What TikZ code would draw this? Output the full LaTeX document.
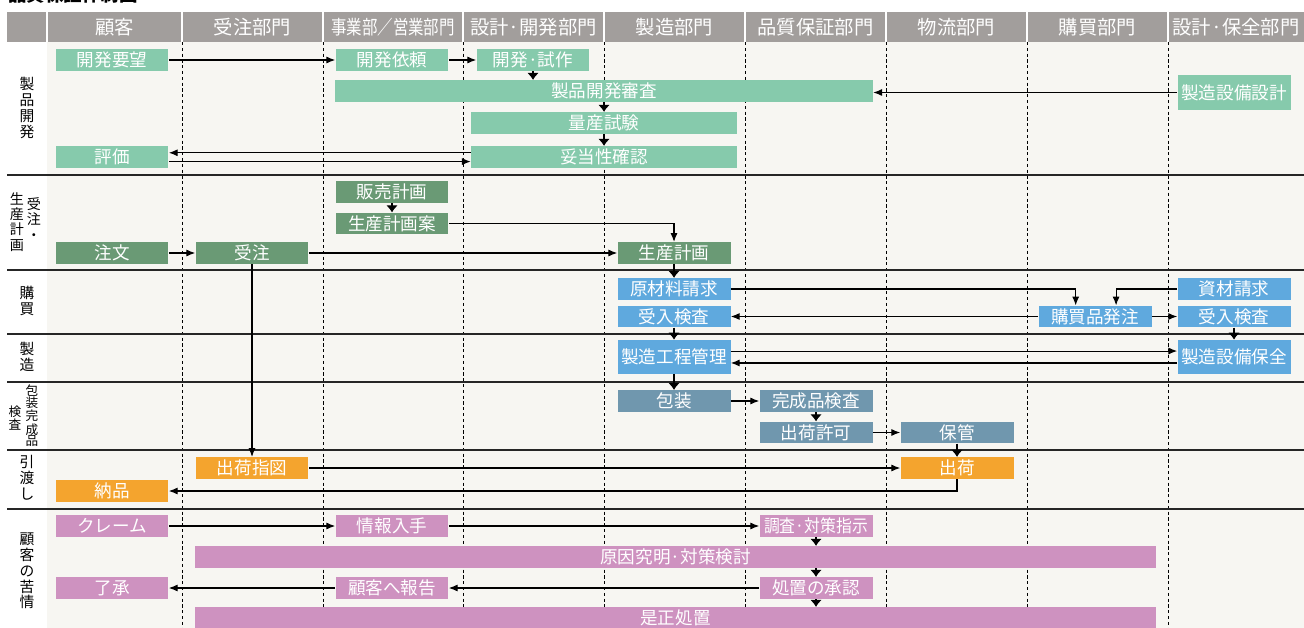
\documentclass[tikz,border=0pt]{standalone}
\usepackage{fontspec}
\usepackage{graphicx}
\setmainfont{Noto Sans CJK JP}
\usetikzlibrary{arrows.meta}

\definecolor{headgray}{HTML}{A29E9C}
\definecolor{paper}{HTML}{F7F6F2}
\definecolor{devgreen}{HTML}{86CAAC}
\definecolor{ordgreen}{HTML}{6A9A75}
\definecolor{mfgblue}{HTML}{5FA9DE}
\definecolor{packblue}{HTML}{7097AE}
\definecolor{shiporange}{HTML}{F4A42E}
\definecolor{claimpink}{HTML}{CE92C0}

\begin{document}
\begin{tikzpicture}[
    x=0.02cm, y=-0.02cm,
    task/.style={minimum width=2.26cm, minimum height=0.43cm, inner sep=0pt,
        text=white, font=\fontsize{10}{11}\selectfont},
    devbox/.style={task, fill=devgreen},
    ordbox/.style={task, fill=ordgreen},
    mfgbox/.style={task, fill=mfgblue},
    packbox/.style={task, fill=packblue},
    shipbox/.style={task, fill=shiporange},
    claimbox/.style={task, fill=claimpink},
    headcell/.style={text=white, inner sep=0pt, font=\fontsize{11}{12}\selectfont},
    rowlabel/.style={align=center, inner sep=0pt, font=\fontsize{8.4}{9}\selectfont},
    flow/.style={-{Latex[length=5pt,width=4pt]}, line width=0.6pt},
    drop/.style={-{Latex[length=4pt,width=6.5pt]}, line width=0.6pt},
    lane/.style={dash pattern=on 1.8pt off 1.5pt, line width=0.5pt},
    rowrule/.style={line width=0.7pt, black!85}
]
    \useasboundingbox (0,0) rectangle (1304,628);
    \fill[white] (0,0) rectangle (1304,628);
    \fill[paper] (47,42) rectangle (1304,628);
    \node[anchor=base west, inner sep=0pt, font=\bfseries\fontsize{10.5}{12}\selectfont] (title) at (8,2) {品質保証体制図};

    % header
    \fill[headgray] (7,12) rectangle (1304,42);
    \foreach \x in {47,182,323,463,604,745,886,1027,1168} {
        \draw[white, line width=0.8pt] (\x,12) -- (\x,42);
    }
    \foreach \name/\cx [count=\i] in {顧客/114.5, 受注部門/252.5,
        \scalebox{0.8}[1]{事業部／営業部門}/393, 設計·開発部門/533.5, 製造部門/674.5,
        品質保証部門/815.5, 物流部門/956.5, 購買部門/1097.5, 設計·保全部門/1236} {
        \node[headcell] (head\i) at (\cx,27) {\name};
    }

    % lanes and rows
    \foreach \x in {182,323,463,604,745,886,1027,1168} {
        \draw[lane] (\x,42) -- (\x,628);
    }
    \foreach \y in {175,270,334,382,450,509} {
        \draw[rowrule] (7,\y) -- (1304,\y);
    }

    \node[rowlabel] (lbdev) at (27,108) {製\\品\\開\\発};
    \node[rowlabel, font=\fontsize{8}{8.6}\selectfont] (lbplan) at (17,222) {生\\産\\計\\画};
    \node[rowlabel, font=\fontsize{8}{8.6}\selectfont] (lbaccept) at (34,219) {受\\注\\・};
    \node[rowlabel] (lbbuy) at (27,301) {購\\買};
    \node[rowlabel] (lbmake) at (27,357) {製\\造};
    \node[rowlabel, font=\fontsize{7.2}{6.6}\selectfont] (lbpack) at (32,416) {包\\装\\完\\成\\品};
    \node[rowlabel, font=\fontsize{7.2}{6.6}\selectfont] (lbcheck) at (15,418) {検\\査};
    \node[rowlabel] (lbhand) at (27,478) {引\\渡\\し};
    \node[rowlabel] (lbclaim) at (27,571) {顧\\客\\の\\苦\\情};

    % product development
    \node[devbox] (wish) at (112,60) {開発要望};
    \node[devbox] (request) at (392,60) {開発依頼};
    \node[devbox] (proto) at (533,60) {開発·試作};
    \node[devbox, minimum width=10.76cm] (review) at (604,91) {製品開発審査};
    \node[devbox, minimum height=0.7cm] (eqdesign) at (1234,92.5) {製造設備設計};
    \node[devbox, minimum width=5.32cm] (masstest) at (604,123) {量産試験};
    \node[devbox, minimum width=5.32cm] (validate) at (604,157) {妥当性確認};
    \node[devbox] (evaluate) at (112,157) {評価};

    % orders and planning
    \node[ordbox] (salesplan) at (392,192) {販売計画};
    \node[ordbox] (plandraft) at (392,223.5) {生産計画案};
    \node[ordbox] (order) at (112,253) {注文};
    \node[ordbox] (accept) at (252,253) {受注};
    \node[ordbox] (prodplan) at (674,253) {生産計画};

    % purchasing
    \node[mfgbox] (rawreq) at (674,289) {原材料請求};
    \node[mfgbox] (inspect) at (674,316.5) {受入検査};
    \node[mfgbox] (purchase) at (1095,316.5) {購買品発注};
    \node[mfgbox] (matreq) at (1234,289) {資材請求};
    \node[mfgbox] (inspectb) at (1234,316.5) {受入検査};

    % manufacturing
    \node[mfgbox, minimum height=0.68cm] (process) at (674,357) {製造工程管理};
    \node[mfgbox, minimum height=0.68cm] (upkeep) at (1234,357) {製造設備保全};

    % packing and final inspection
    \node[packbox] (pack) at (674,401) {包装};
    \node[packbox] (final) at (816,401) {完成品検査};
    \node[packbox] (release) at (816,432.5) {出荷許可};
    \node[packbox] (store) at (957,432.5) {保管};

    % delivery
    \node[shipbox] (shipinst) at (252,468) {出荷指図};
    \node[shipbox] (ship) at (957,468) {出荷};
    \node[shipbox] (deliver) at (112,491) {納品};

    % claims
    \node[claimbox] (claim) at (112,526) {クレーム};
    \node[claimbox] (info) at (392,526) {情報入手};
    \node[claimbox] (survey) at (816,526) {\scalebox{0.9}[1]{調査·対策指示}};
    \node[claimbox, minimum width=19.22cm] (cause) at (675.5,557) {原因究明·対策検討};
    \node[claimbox] (consent) at (112,588) {了承};
    \node[claimbox] (report) at (392,588) {顧客へ報告};
    \node[claimbox] (approve) at (816,588) {処置の承認};
    \node[claimbox, minimum width=19.22cm] (fix) at (675.5,618) {是正処置};

    % connectors
    \draw[flow] (wish.east) -- (request.west);
    \draw[flow] (request.east) -- (proto.west);
    \draw[drop] (proto.south) -- (proto.south |- review.north);
    \draw[drop] (review.south) -- (masstest.north);
    \draw[drop] (masstest.south) -- (validate.north);
    \draw[flow] (eqdesign.west) -- (eqdesign.west -| review.east);
    \draw[flow] ([yshift=2.4pt]validate.west) -- ([yshift=2.4pt]evaluate.east);
    \draw[flow] ([yshift=-2.6pt]evaluate.east) -- ([yshift=-2.6pt]validate.west);

    \draw[drop] (salesplan.south) -- (plandraft.north);
    \draw[flow] (plandraft.east) -| (prodplan.north);
    \draw[flow] (order.east) -- (accept.west);
    \draw[flow] (accept.east) -- (prodplan.west);
    \draw[flow] (accept.south) -- (shipinst.north);
    \draw[drop] (prodplan.south) -- (rawreq.north);

    \draw[flow] (rawreq.east) -| ([xshift=-11pt]purchase.north);
    \draw[flow] (matreq.west) -| ([xshift=12pt]purchase.north);
    \draw[flow] (purchase.west) -- (inspect.east);
    \draw[flow] (purchase.east) -- (inspectb.west);
    \draw[drop] (inspect.south) -- (process.north);
    \draw[drop] (inspectb.south) -- (upkeep.north);
    \draw[flow] ([yshift=3.4pt]process.east) -- ([yshift=3.4pt]upkeep.west);
    \draw[flow] ([yshift=-3.4pt]upkeep.west) -- ([yshift=-3.4pt]process.east);
    \draw[drop] (process.south) -- (pack.north);

    \draw[flow] (pack.east) -- (final.west);
    \draw[drop] (final.south) -- (release.north);
    \draw[flow] (release.east) -- (store.west);
    \draw[drop] (store.south) -- (ship.north);
    \draw[flow] (shipinst.east) -- (ship.west);
    \draw[flow] (ship.south) |- (deliver.east);

    \draw[flow] (claim.east) -- (info.west);
    \draw[flow] (info.east) -- (survey.west);
    \draw[drop] (survey.south) -- (survey.south |- cause.north);
    \draw[drop] (approve.north |- cause.south) -- (approve.north);
    \draw[drop] (approve.south) -- (approve.south |- fix.north);
    \draw[flow] (approve.west) -- (report.east);
    \draw[flow] (report.west) -- (consent.east);
\end{tikzpicture}
\end{document}
